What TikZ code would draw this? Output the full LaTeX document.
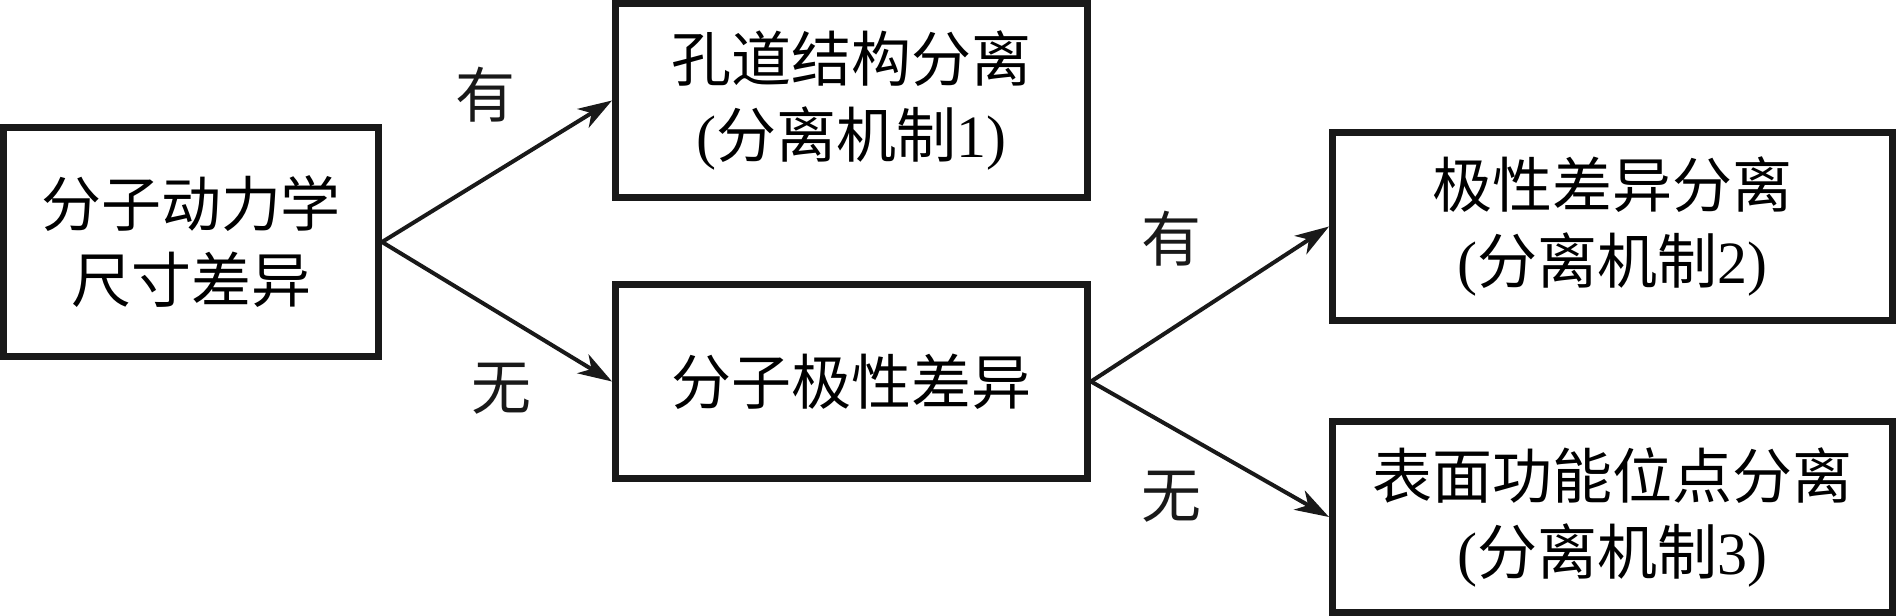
\documentclass[tikz,border=0pt]{standalone}
\usepackage{fontspec}
\setmainfont{Liberation Serif}
\newfontfamily\cjk{Noto Sans CJK SC}
\usetikzlibrary{arrows.meta}
\begin{document}
\begin{tikzpicture}[x=0.5pt,y=-0.5pt,
  box/.style={draw=black!90, line width=3.5pt, inner sep=0pt, align=center,
    font=\fontsize{30}{38}\selectfont},
  lbl/.style={font=\cjk\fontsize{30}{36}\selectfont, inner sep=0pt, text=black!90},
  arr/.style={draw=black!90, line width=2pt, -{Stealth[length=17pt,width=11pt,inset=5pt]}}]
\useasboundingbox (0,0) rectangle (1897,616);
\node[box, minimum width=187.5pt, minimum height=114.5pt] (A) at (191,242)
  {{\cjk 分子动力学}\\{\cjk 尺寸差异}};
\node[box, minimum width=236pt, minimum height=97pt] (B) at (851.5,100.5)
  {{\cjk 孔道结构分离}\\({\cjk 分离机制}1)};
\node[box, minimum width=236pt, minimum height=97pt] (C) at (851.5,381.5)
  {{\cjk 分子极性差异}};
\node[box, minimum width=280pt, minimum height=94pt] (D) at (1612.5,226.5)
  {{\cjk 极性差异分离}\\({\cjk 分离机制}2)};
\node[box, minimum width=280pt, minimum height=95.5pt] (E) at (1612.5,517)
  {{\cjk 表面功能位点分离}\\({\cjk 分离机制}3)};
\draw[arr] (A.east) -- (B.west);
\draw[arr] (A.east) -- (C.west);
\draw[arr] (C.east) -- (D.west);
\draw[arr] (C.east) -- (E.west);
\node[lbl] (l1) at (485,95) {有};
\node[lbl] (l2) at (501,389) {无};
\node[lbl] (l3) at (1171,239) {有};
\node[lbl] (l4) at (1171,497) {无};
\end{tikzpicture}
\end{document}
